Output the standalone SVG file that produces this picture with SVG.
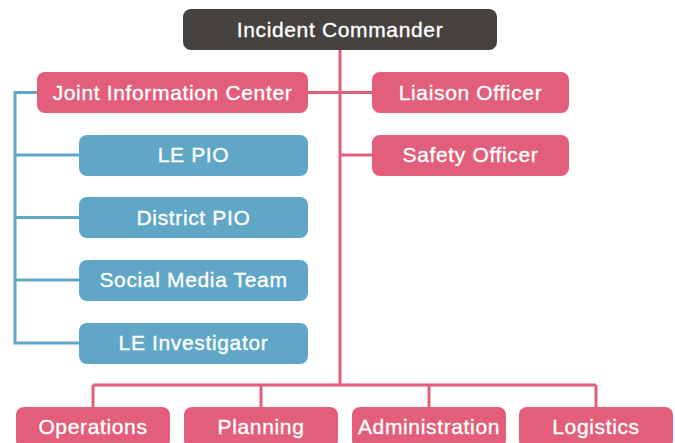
<svg xmlns="http://www.w3.org/2000/svg" width="675" height="443" viewBox="0 0 675 443">
<style>
.pink{fill:#E25E7B}
.blue{fill:#5FA6C7}
.dark{fill:#46423F}
text{font-family:"Liberation Sans",Arial,sans-serif;font-size:21px;fill:#fff;stroke:#fff;stroke-width:0.35;text-anchor:middle;letter-spacing:0.65px}
.lp{stroke:#E25E7B;stroke-width:3;fill:none}
.lb{stroke:#5FA6C7;stroke-width:3;fill:none}
</style>
<rect width="675" height="443" fill="#fff"/>
<g id="connectors">
<path class="lp" d="M340 50V385M308 92.5H372M340 155H372M93 385H596M93 385V408M261 385V408M429 385V408M596 385V408"/>
<path class="lb" d="M37 92.5H15V343H79M15 155H79M15 217.5H79M15 280H79"/>
</g>
<g id="incident-commander"><rect class="dark" x="183" y="9" width="314" height="41" rx="8"/><text x="340" y="36.5">Incident Commander</text></g>
<g id="jic"><rect class="pink" x="37" y="72" width="271" height="41" rx="8"/><text x="172.5" y="99.5">Joint Information Center</text></g>
<g id="liaison"><rect class="pink" x="372" y="72" width="197" height="41" rx="8"/><text x="470.5" y="99.5">Liaison Officer</text></g>
<g id="safety"><rect class="pink" x="372" y="135" width="197" height="41" rx="8"/><text x="470.5" y="162">Safety Officer</text></g>
<g id="le-pio"><rect class="blue" x="79" y="135" width="229" height="41" rx="8"/><text x="193.5" y="162">LE PIO</text></g>
<g id="district-pio"><rect class="blue" x="79" y="197" width="229" height="41" rx="8"/><text x="193.5" y="224.5">District PIO</text></g>
<g id="social-media"><rect class="blue" x="79" y="260" width="229" height="41" rx="8"/><text x="193.5" y="287">Social Media Team</text></g>
<g id="le-investigator"><rect class="blue" x="79" y="323" width="229" height="41" rx="8"/><text x="193.5" y="350">LE Investigator</text></g>
<g id="operations"><rect class="pink" x="16" y="407" width="154" height="41" rx="8"/><text x="93" y="434">Operations</text></g>
<g id="planning"><rect class="pink" x="184" y="407" width="154" height="41" rx="8"/><text x="261" y="434">Planning</text></g>
<g id="administration"><rect class="pink" x="352" y="407" width="154" height="41" rx="8"/><text x="429" y="434">Administration</text></g>
<g id="logistics"><rect class="pink" x="519" y="407" width="154" height="41" rx="8"/><text x="596" y="434">Logistics</text></g>
</svg>
